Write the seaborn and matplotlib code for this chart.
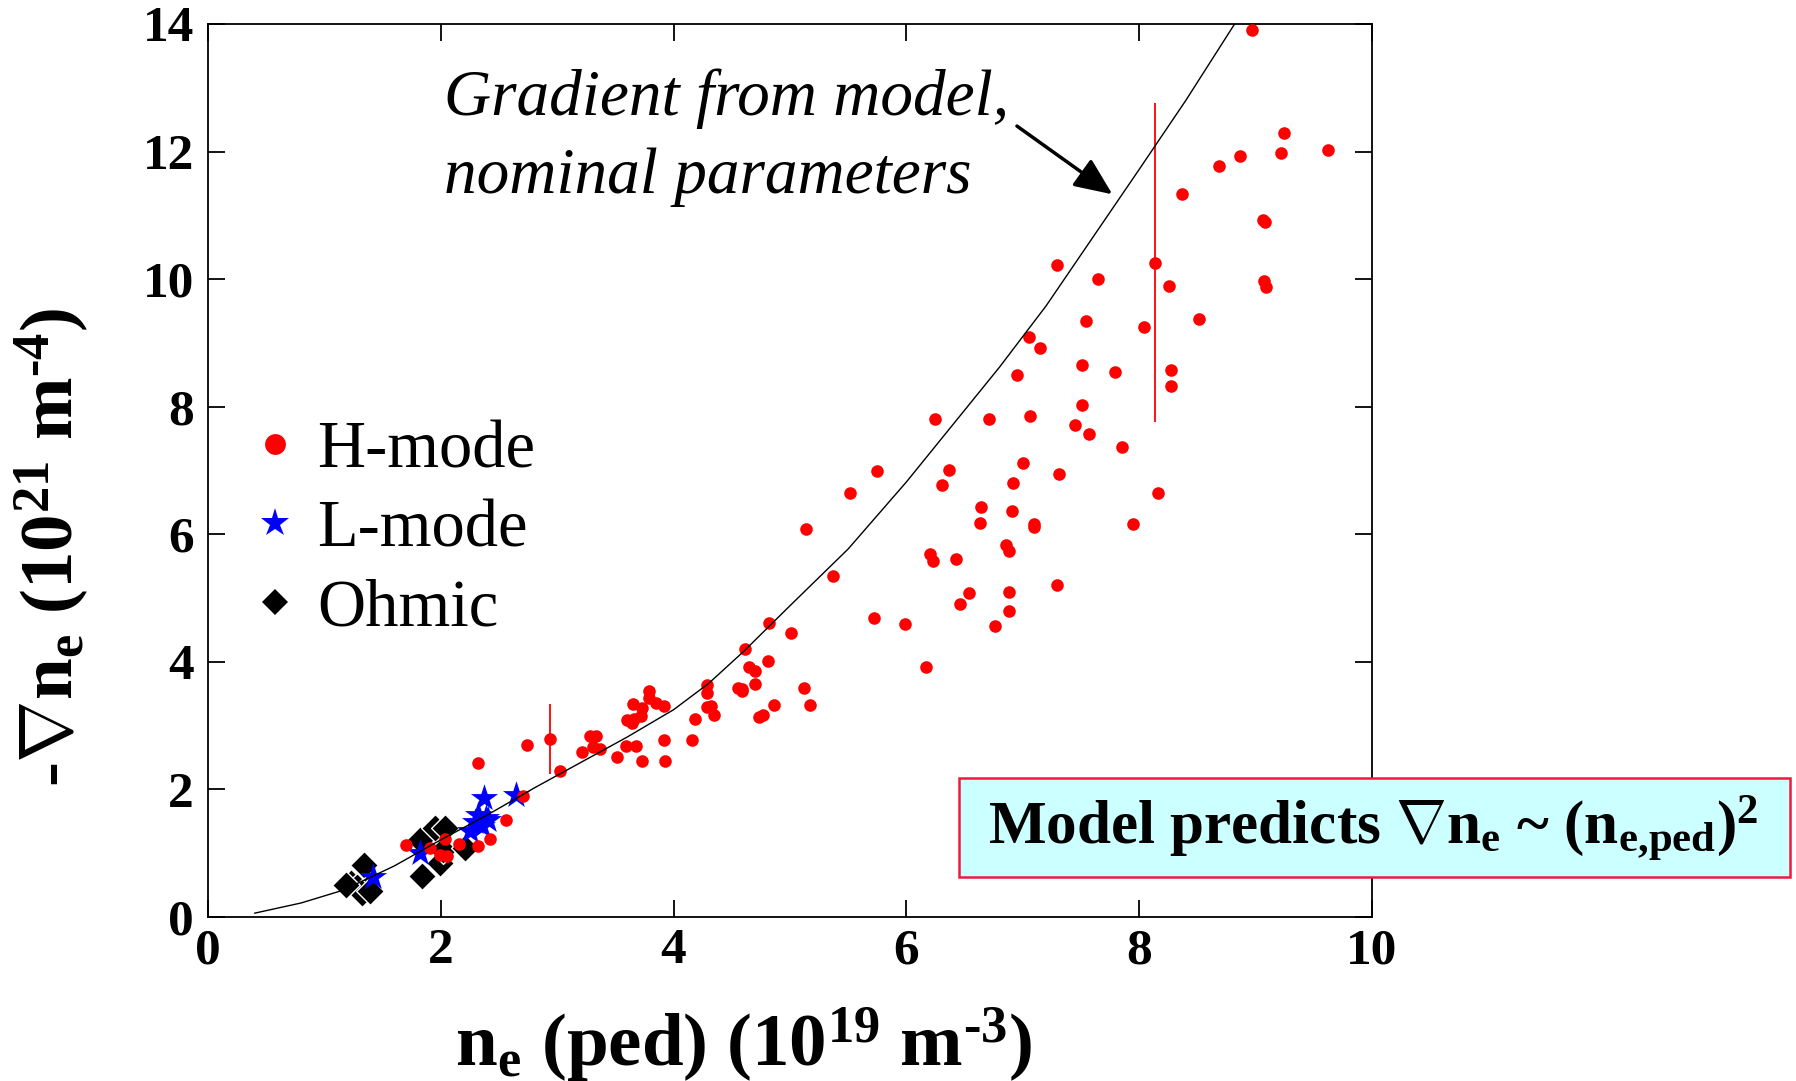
import numpy as np
import pandas as pd
import matplotlib
matplotlib.use("Agg")
import matplotlib.pyplot as plt
from matplotlib.lines import Line2D
from matplotlib.patches import Rectangle
import seaborn as sns

# ---------------- data ----------------
h_x = [8.97, 9.24, 9.22, 9.62, 8.87, 8.69, 8.37, 9.06, 9.08, 8.14, 8.26, 9.07, 9.09,
       8.51, 8.04, 7.29, 7.65, 7.54, 7.05, 7.15, 6.95, 7.51, 7.79, 8.27, 8.27, 7.51,
       6.71, 7.06, 7.45, 7.57, 7.85, 7.00, 7.31, 6.92, 6.37, 8.16, 6.64, 6.91, 6.63,
       7.10, 7.10, 7.95, 6.86, 6.88, 6.43, 7.29, 6.54, 6.88, 6.46, 6.88, 6.76,
       6.25, 6.31, 5.75, 5.52, 5.14,
       2.74, 2.94, 3.02, 3.21, 3.28, 3.33, 3.31, 3.37, 3.51, 3.59, 3.68, 3.73, 3.60,
       3.64, 3.66, 3.72, 3.73, 3.65, 3.79, 3.79, 3.85, 3.92, 3.92, 3.93, 4.18, 4.16,
       4.29, 4.29, 4.29, 4.32, 4.35, 4.55, 4.59, 4.59, 4.70, 4.65, 4.70, 4.61, 4.81,
       4.73, 4.77, 4.86, 4.82, 5.01, 5.12, 5.17, 5.37, 5.72, 5.99, 6.17, 6.20, 6.23,
       2.71, 2.32, 2.56, 2.42, 2.32, 2.16, 2.04, 1.91, 1.99, 2.05, 1.70]
h_y = [13.90, 12.29, 11.97, 12.03, 11.93, 11.78, 11.34, 10.92, 10.90, 10.26, 9.89, 9.97, 9.88,
       9.37, 9.25, 10.22, 10.01, 9.34, 9.10, 8.92, 8.50, 8.66, 8.54, 8.57, 8.32, 8.03,
       7.80, 7.86, 7.72, 7.57, 7.37, 7.12, 6.95, 6.81, 7.01, 6.64, 6.43, 6.37, 6.18,
       6.16, 6.12, 6.16, 5.83, 5.74, 5.62, 5.20, 5.08, 5.10, 4.91, 4.80, 4.57,
       7.80, 6.77, 6.99, 6.65, 6.08,
       2.70, 2.79, 2.29, 2.58, 2.83, 2.83, 2.66, 2.64, 2.51, 2.68, 2.68, 2.45, 3.09,
       3.04, 3.11, 3.15, 3.27, 3.34, 3.54, 3.43, 3.35, 3.31, 2.78, 2.44, 3.11, 2.78,
       3.64, 3.51, 3.29, 3.31, 3.17, 3.59, 3.58, 3.54, 3.66, 3.92, 3.86, 4.20, 4.01,
       3.14, 3.17, 3.33, 4.61, 4.45, 3.59, 3.32, 5.35, 4.68, 4.60, 3.92, 5.69, 5.58,
       1.89, 2.41, 1.52, 1.22, 1.12, 1.14, 1.22, 1.08, 0.97, 0.95, 1.13]

l_x = [2.37, 2.65, 2.32, 2.39, 2.29, 2.25, 2.35, 2.41, 1.82, 1.42]
l_y = [1.86, 1.92, 1.60, 1.55, 1.49, 1.35, 1.42, 1.52, 1.00, 0.63]

o_x = [1.34, 1.23, 1.28, 1.36, 1.32, 1.39, 1.19, 1.84, 1.99, 1.82, 1.95, 2.04, 2.02, 2.21]
o_y = [0.82, 0.53, 0.47, 0.42, 0.37, 0.40, 0.50, 0.64, 0.84, 1.20, 1.39, 1.40, 1.05, 1.08]

err_x = [2.94, 8.14]
err_y = [2.79, 10.26]
err_e = [0.55, 2.50]

model_x = [0.40, 0.80, 1.16, 1.60, 1.99, 2.40, 2.80, 3.20, 3.60, 4.00, 4.30,
           4.60, 5.00, 5.50, 6.00, 6.40, 6.80, 7.20, 7.60, 8.00, 8.40, 8.82]
model_y = [0.06, 0.22, 0.42, 0.80, 1.20, 1.60, 2.02, 2.42, 2.82, 3.25, 3.66,
           4.16, 4.88, 5.77, 6.82, 7.72, 8.62, 9.58, 10.65, 11.72, 12.80, 14.00]

x_ticks = [0, 2, 4, 6, 8, 10]
y_ticks = [0, 2, 4, 6, 8, 10, 12, 14]

# ---------------- style ----------------
sns.set_theme(style="ticks")
plt.rcParams["font.family"] = ["Liberation Serif", "DejaVu Serif"]
plt.rcParams["text.color"] = "black"
plt.rcParams["axes.labelcolor"] = "black"
plt.rcParams["mathtext.fontset"] = "custom"
plt.rcParams["mathtext.rm"] = "Liberation Serif:bold"
plt.rcParams["mathtext.bf"] = "Liberation Serif:bold"
plt.rcParams["mathtext.it"] = "Liberation Serif:italic:bold"
plt.rcParams["mathtext.default"] = "rm"

fig = plt.figure(figsize=(17.96, 10.81), dpi=100)
ax = fig.add_axes([0.1158, 0.1517, 0.6481, 0.8261])

df_h = pd.DataFrame({"x": h_x, "y": h_y})
df_l = pd.DataFrame({"x": l_x, "y": l_y})
df_o = pd.DataFrame({"x": o_x, "y": o_y})
df_m = pd.DataFrame({"x": model_x, "y": model_y})

sns.scatterplot(data=df_o, x="x", y="y", ax=ax, marker="D", s=200, color="black",
                edgecolor="white", linewidth=1.0, zorder=3, legend=False)
sns.scatterplot(data=df_l, x="x", y="y", ax=ax, marker="*", s=420, color="#0000FF",
                linewidth=0, zorder=4, legend=False)
ax.errorbar(err_x, err_y, yerr=err_e, fmt="none", ecolor="#FF0000", elinewidth=1.3,
            capsize=0, zorder=4)
sns.scatterplot(data=df_h, x="x", y="y", ax=ax, marker="o", s=82, color="#FF0000",
                linewidth=0, zorder=5, legend=False)
sns.lineplot(data=df_m, x="x", y="y", ax=ax, color="black", linewidth=1.0,
             sort=False, estimator=None, zorder=6)

ax.set_xlim(0, 10)
ax.set_ylim(0, 14)
ax.set_xticks(x_ticks)
ax.set_yticks(y_ticks)
ax.set_xticklabels([str(t) for t in x_ticks])
ax.set_yticklabels([str(t) for t in y_ticks])
for sp in ax.spines.values():
    sp.set_visible(True)
    sp.set_color("black")
    sp.set_linewidth(1.3)
ax.tick_params(direction="in", top=True, right=True, length=12, width=1.3,
               colors="black", labelsize=37)
ax.tick_params(axis="y", pad=10)
ax.tick_params(axis="x", pad=8)
for lbl in ax.get_xticklabels() + ax.get_yticklabels():
    lbl.set_fontweight("bold")

ax.set_xlabel("n$_\\mathrm{e}$ (ped) (10$^\\mathrm{19}$ m$^\\mathrm{\u20103}$)",
              fontsize=54, fontweight="bold", va="center")
ax.xaxis.set_label_coords(0.46, -0.143)
ax.set_ylabel("-$\\nabla$n$_\\mathrm{e}$ (10$^\\mathrm{21}$ m$^\\mathrm{\u20104}$)",
              fontsize=54, fontweight="bold", va="center")
ax.yaxis.set_label_coords(-0.134, 0.414)

# annotation
ax.text(0.2027, 0.898, "Gradient from model,", transform=ax.transAxes,
        fontsize=47, fontstyle="italic", ha="left", va="baseline", color="black")
ax.text(0.2027, 0.811, "nominal parameters", transform=ax.transAxes,
        fontsize=47, fontstyle="italic", ha="left", va="baseline", color="black")
ax.annotate("", xy=(7.77, 11.33), xytext=(6.95, 12.40),
            arrowprops=dict(arrowstyle="-|>,head_length=1.1,head_width=0.48",
                            mutation_scale=21, color="black", lw=2.5,
                            shrinkA=0, shrinkB=0))

# legend
handles = [Line2D([], [], ls="", marker="o", ms=15, color="#FF0000", mew=0),
           Line2D([], [], ls="", marker="*", ms=21, color="#0000FF", mew=0),
           Line2D([], [], ls="", marker="D", ms=13.5, color="black", mew=0)]
leg = ax.legend(handles, ["H-mode", "L-mode", "Ohmic"], loc="upper left",
                bbox_to_anchor=(0.0344, 0.556), frameon=False, borderaxespad=0,
                borderpad=0, handlelength=0.8, handletextpad=0.24, labelspacing=0.27,
                prop={"family": "Liberation Serif", "size": 48})
for t in leg.get_texts():
    t.set_color("black")

# model box
fig.patches.append(Rectangle((0.534, 0.1887), 0.4627, 0.0916, transform=fig.transFigure,
                             facecolor="#CCFFFF", edgecolor="#EE1840", linewidth=1.8,
                             zorder=10))
fig.text(0.7645, 0.2192,
         "Model predicts $\\nabla$n$_\\mathrm{e}$ ~ (n$_\\mathrm{e{,}ped}$)$^\\mathrm{2}$",
         fontsize=44, fontweight="bold", ha="center", va="baseline", zorder=11,
         color="black")

fig.savefig("out.png", dpi=100)
